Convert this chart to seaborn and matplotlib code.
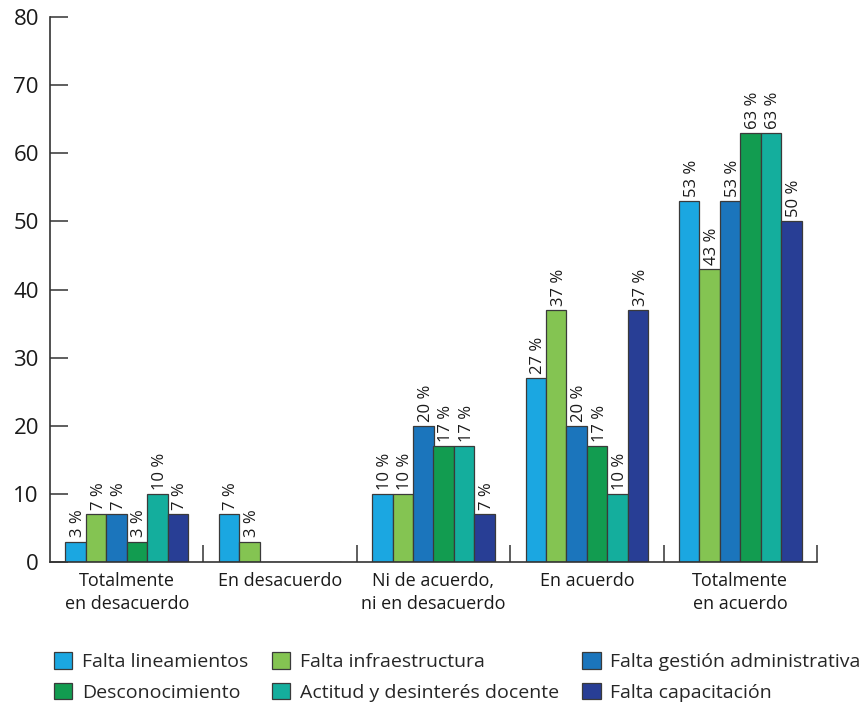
import numpy as np
import pandas as pd
import seaborn as sns
from matplotlib import pyplot as plt
from matplotlib.patches import Patch

categories = ["Totalmente\nen desacuerdo", "En desacuerdo", "Ni de acuerdo,\nni en desacuerdo",
              "En acuerdo", "Totalmente\nen acuerdo"]
series = ["Falta lineamientos", "Falta infraestructura", "Falta gestión administrativa",
          "Desconocimiento", "Actitud y desinterés docente", "Falta capacitación"]
falta_lineamientos = [3, 7, 10, 27, 53]
falta_infraestructura = [7, 3, 10, 37, 43]
falta_gestion = [7, 0, 20, 20, 53]
desconocimiento = [3, 0, 17, 17, 63]
actitud = [10, 0, 17, 10, 63]
falta_capacitacion = [7, 0, 7, 37, 50]
colors = ["#1ba7e1", "#84c452", "#1b75bc", "#129c50", "#14ae9d", "#283e95"]

values = [falta_lineamientos, falta_infraestructura, falta_gestion,
          desconocimiento, actitud, falta_capacitacion]
rows = []
for s, vals in zip(series, values):
    for c, v in zip(categories, vals):
        rows.append({"categoria": c, "serie": s, "valor": v})
df = pd.DataFrame(rows)

sns.set_style("ticks")
plt.rcParams['font.family'] = ['Open Sans', 'DejaVu Sans']

fig = plt.figure(figsize=(8.68, 7.04), dpi=100)
ax = fig.add_axes([50/868, 1-562/704, 767/868, 545/704])
sns.barplot(data=df, x="categoria", y="valor", hue="serie", order=categories,
            hue_order=series, palette=colors, width=0.8, saturation=1,
            edgecolor="#3a3a3a", linewidth=0.9, ax=ax, legend=False)

for cont in ax.containers:
    labels = [f"{int(b.get_height())} %" if b.get_height() > 0 else "" for b in cont]
    texts = ax.bar_label(cont, labels=labels, rotation=90, padding=3, fontsize=12, color="#1a1a1a")
    for t in texts:
        t.xyann = (1.8, 3)  # nudge to look centred on the bar

ax.set_xlim(-0.5, 4.5)
ax.set_ylim(0, 80)
ax.set_yticks(range(0, 81, 10))
ax.set_xlabel("")
ax.set_ylabel("")
ax.tick_params(axis="y", direction="in", length=13, width=1.1, pad=8, labelsize=16,
               color="#333333", labelcolor="#1a1a1a")
ax.tick_params(axis="x", which="major", length=0, pad=7, labelsize=13, labelcolor="#1a1a1a")
for lbl in ax.get_xticklabels():
    lbl.set_linespacing(1.35)
ax.set_xticks(np.arange(0.5, 5, 1), minor=True)
ax.tick_params(axis="x", which="minor", direction="in", length=12, width=1.1, color="#333333")
sns.despine(ax=ax)
for sp in ["left", "bottom"]:
    ax.spines[sp].set_linewidth(1.2)
    ax.spines[sp].set_color("#333333")

handles = [Patch(facecolor=c, edgecolor="#3a3a3a", linewidth=0.9) for c in colors]
order = [0, 3, 1, 4, 2, 5]
fig.legend([handles[i] for i in order], [series[i] for i in order], ncol=3,
           loc="upper left", bbox_to_anchor=(46/868, 1-644/704), frameon=False,
           fontsize=14, handlelength=0.95, handleheight=0.95, handletextpad=0.5,
           columnspacing=1.2, labelspacing=0.6, borderaxespad=0)

fig.savefig("out.png", dpi=100)
